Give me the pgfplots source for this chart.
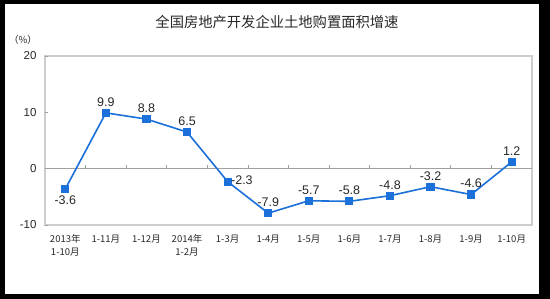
\documentclass[border=0pt]{standalone}
\usepackage{pgfplots}
\pgfplotsset{compat=1.18}
\usepackage{fontspec}
\setmainfont{Liberation Sans}
\newfontfamily\cjk{Noto Sans CJK SC}
\definecolor{lineblue}{RGB}{28,112,218}
\definecolor{framegray}{RGB}{205,205,205}
\definecolor{zerogray}{RGB}{160,160,160}
\definecolor{txt}{RGB}{40,40,40}
\begin{document}
\begin{tikzpicture}
\fill[black] (-45pt,-74pt) rectangle (505pt,225pt);
\fill[white] (-40pt,-69pt) rectangle (494pt,221pt);
\draw[draw=framegray, line width=1.6pt] (0pt,0pt) rectangle (487pt,169pt);
\draw[draw=zerogray, line width=1.4pt] (0pt,56.33pt) -- (487pt,56.33pt);
\node[font=\cjk\fontsize{14.3}{16}\selectfont, text=txt] at (232pt,203pt) {全国房地产开发企业土地购置面积增速};
\node[font=\cjk\fontsize{9.5}{10}\selectfont, text=txt] at (-22pt,185pt) {（\%）};
\begin{axis}[
  at={(0pt,0pt)}, anchor=south west,
  scale only axis, width=487pt, height=169pt,
  xmin=-0.5, xmax=11.5, ymin=-10, ymax=20,
  ytick={-10,0,10,20},
  xtick={0,...,11},
  xticklabels={{2013年\\1-10月},1-11月,1-12月,{2014年\\1-2月},1-3月,1-4月,1-5月,1-6月,1-7月,1-8月,1-9月,1-10月},
  xticklabel style={align=center, font=\cjk\fontsize{9.5}{13}\selectfont, text=txt, anchor=north, yshift=-6pt},
  yticklabel style={font=\fontsize{11.5}{12}\selectfont, text=txt, xshift=-5pt},
  /pgf/number format/assume math mode=true,
  axis line style={draw=none},
  xtick style={draw=none},
  ytick style={draw=zerogray, line width=0.8pt},
  ytick pos=left, tick align=inside, major tick length=3pt,
  clip=false,
]
\pgfplotsinvokeforeach{0.5,1.5,2.5,3.5,4.5,5.5,6.5,7.5,8.5,9.5,10.5}{\draw[draw=zerogray, line width=0.8pt] (axis cs:#1,0) -- (axis cs:#1,0.7);}
\addplot[lineblue, line width=1.6pt, mark=square*, mark size=3.3pt, mark options={solid, fill=lineblue}] coordinates {
(0,-3.6) (1,9.9) (2,8.8) (3,6.5) (4,-2.3) (5,-7.9) (6,-5.7) (7,-5.8) (8,-4.8) (9,-3.2) (10,-4.6) (11,1.2)};
% labels above
\addplot[draw=none, mark=none, nodes near coords, point meta=explicit symbolic,
  every node near coord/.append style={anchor=south, yshift=3pt, font=\fontsize{12.5}{13}\selectfont, text=txt}]
  coordinates {(1,9.9)[9.9] (2,8.8)[8.8] (3,6.5)[6.5] (5,-7.9)[-7.9] (6,-5.7)[-5.7] (7,-5.8)[-5.8] (8,-4.8)[-4.8] (9,-3.2)[-3.2] (10,-4.6)[-4.6] (11,1.2)[1.2]};
% label below
\addplot[draw=none, mark=none, nodes near coords, point meta=explicit symbolic,
  every node near coord/.append style={anchor=north, yshift=-3pt, font=\fontsize{12.5}{13}\selectfont, text=txt}]
  coordinates {(0,-3.6)[-3.6]};
% label right
\addplot[draw=none, mark=none, nodes near coords, point meta=explicit symbolic,
  every node near coord/.append style={anchor=west, xshift=0pt, yshift=1pt, font=\fontsize{12.5}{13}\selectfont, text=txt}]
  coordinates {(4,-2.3)[-2.3]};
\end{axis}
\end{tikzpicture}
\end{document}
